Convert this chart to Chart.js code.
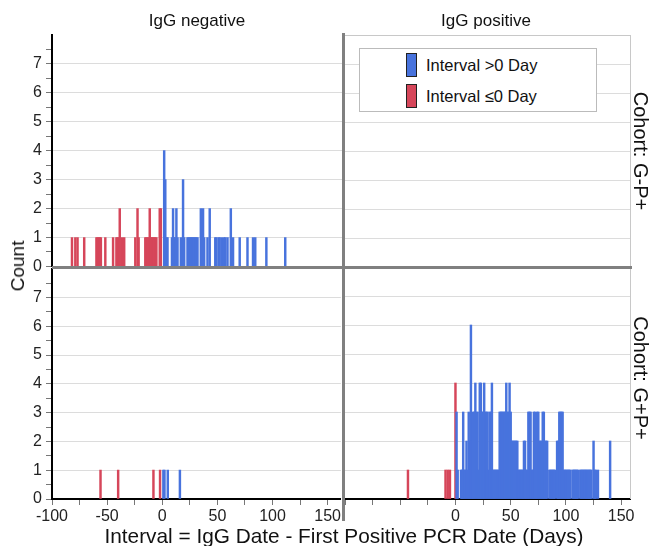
<!DOCTYPE html>
<html>
<head>
<meta charset="utf-8">
<script src="https://cdn.jsdelivr.net/npm/chart.js@4.4.1/dist/chart.umd.min.js"></script>
<style>
  body { margin: 0; background: #fff; font-family: "Liberation Sans", Arial, sans-serif; }
  #wrap { position: relative; width: 652px; height: 546px; overflow: hidden; }
  .panel { position: absolute; }
  .txt { position: absolute; color: #111; white-space: nowrap; }
  .rot { transform: translate(-50%, -50%) rotate(90deg); }
  .rotl { transform: translate(-50%, -50%) rotate(-90deg); }
  .line { position: absolute; z-index: 5; }
  #legend { position: absolute; left: 359px; top: 48px; width: 236px; height: 62px;
            border: 1px solid #bbb; background: #fff; z-index: 6; }
  .item { position: absolute; left: 46px; height: 24px; font-size: 16.5px; color: #111; }
  .item span.sw { position: absolute; left: 0; top: 0; width: 9px; height: 22px; border: 1px solid #222; }
  .item span.lb { position: absolute; left: 20px; top: 3px; white-space: nowrap; }
</style>
</head>
<body>
<div id="wrap">
  <div class="panel" style="left:0;top:0;width:343px;height:280px"><canvas id="tl"></canvas></div>
  <div class="panel" style="left:343px;top:0;width:309px;height:280px"><canvas id="tr"></canvas></div>
  <div class="panel" style="left:0;top:255px;width:343px;height:291px"><canvas id="bl"></canvas></div>
  <div class="panel" style="left:343px;top:255px;width:309px;height:291px"><canvas id="br"></canvas></div>

  <!-- frame and facet dividers -->
  <div class="line" style="left:630px;top:35px;width:1px;height:464px;background:#c8c8c8"></div>
  <div class="line" style="left:52px;top:266px;width:580px;height:3px;background:#808080"></div>
  <div class="line" style="left:342px;top:33px;width:3px;height:488px;background:#808080"></div>

  <div class="txt" style="left:197px;top:11px;font-size:17px;transform:translateX(-50%)">IgG negative</div>
  <div class="txt" style="left:486px;top:11px;font-size:17px;transform:translateX(-50%)">IgG positive</div>
  <div class="txt rotl" style="left:18px;top:266px;font-size:19px">Count</div>
  <div class="txt rot" style="left:640px;top:151px;font-size:20px">Cohort: G-P+</div>
  <div class="txt rot" style="left:640px;top:378px;font-size:20px">Cohort: G+P+</div>
  <div class="txt" style="left:344px;top:524px;font-size:20.8px;transform:translateX(-50%)">Interval = IgG Date - First Positive PCR Date (Days)</div>

  <div id="legend"></div>
</div>

<script>
// series
const seriesNames = ['Interval >0 Day', 'Interval \u22640 Day'];
const seriesColors = ['#4873dd', '#d6465a'];

// axis ticks
const countTicks = [0, 1, 2, 3, 4, 5, 6, 7];
const dayTickMarks = [-100, -75, -50, -25, 0, 25, 50, 75, 100, 125, 150];
const leftDayTicks = [-100, -50, 0, 50, 100, 150];
const rightDayTicks = [0, 50, 100, 150];

// Cohort G-P+, IgG negative
const gpNegRedDays = [-82, -79, -77, -71, -60, -59, -58, -57, -56, -52, -45, -42, -41, -40, -39, -37, -35,
  -25, -23, -22, -16, -15, -14, -13, -12, -11, -10, -9, -8, -7, -6, -3, -2];
const gpNegRedCounts = [1, 1, 1, 1, 1, 1, 1, 1, 1, 1, 1, 1, 1, 1, 2, 1, 1,
  1, 2, 1, 1, 1, 1, 1, 2, 1, 1, 1, 1, 1, 1, 2, 2];
const gpNegBlueDays = [1, 2, 3, 4, 8, 9, 10, 11, 12, 13, 16, 18, 19, 22, 23, 24, 25, 26, 27, 28, 29, 30, 31,
  34, 35, 36, 37, 40, 42, 47, 48, 50, 51, 53, 55, 56, 58, 61, 63, 69, 76, 81, 83, 93, 110];
const gpNegBlueCounts = [4, 3, 1, 1, 1, 2, 1, 1, 2, 1, 1, 3, 1, 1, 1, 1, 1, 1, 1, 1, 1, 1, 1,
  2, 1, 2, 1, 1, 2, 1, 1, 1, 1, 1, 1, 1, 1, 2, 1, 1, 1, 1, 1, 1, 1];

// Cohort G+P+, IgG negative
const ppNegRedDays = [-56, -40, -8, -2];
const ppNegRedCounts = [1, 1, 1, 1];
const ppNegBlueDays = [1, 2, 5, 16];
const ppNegBlueCounts = [1, 1, 1, 1];

// Cohort G+P+, IgG positive
const ppPosRedDays = [-43, -9, -7, -5, 0];
const ppPosRedCounts = [1, 1, 1, 1, 4];
const ppPosBlueDays = [
  1, 2, 5, 6, 7, 8, 9, 10, 11, 12, 13, 14, 15, 16, 17, 18, 19, 20, 21, 22, 23, 24, 25,
  26, 27, 28, 29, 30, 31, 32, 33, 34, 35, 36, 37, 38, 39, 40, 41, 42, 43, 44, 45, 46, 47, 48, 49, 50,
  51, 52, 53, 54, 55, 56, 57, 58, 59, 60, 61, 62, 63, 64, 65, 66, 67, 68, 69, 70, 71, 72, 73, 74, 75,
  76, 77, 78, 79, 80, 81, 82, 83, 85, 86, 87, 88, 89, 90, 92, 93, 94, 95, 96, 97, 98, 99, 100, 101,
  102, 103, 104, 106, 107, 108, 109, 110, 111, 113, 114, 115, 116, 117, 118, 119, 120, 121, 122, 123,
  125, 126, 127, 129, 140];
const ppPosBlueCounts = [
  3, 1, 1, 1, 3, 1, 1, 2, 1, 3, 2, 6, 2, 3, 3, 4, 3, 3, 1, 4, 4, 3, 3,
  4, 3, 3, 3, 1, 3, 3, 4, 1, 1, 1, 1, 1, 1, 3, 3, 3, 3, 3, 3, 4, 3, 3, 4, 3,
  2, 2, 2, 2, 2, 2, 1, 1, 1, 1, 1, 2, 2, 1, 1, 3, 3, 3, 1, 1, 3, 3, 2, 3, 3,
  2, 2, 2, 3, 3, 2, 2, 2, 1, 1, 1, 1, 1, 1, 2, 2, 3, 3, 3, 3, 1, 1, 1, 1,
  1, 1, 1, 1, 1, 1, 1, 1, 1, 1, 1, 1, 1, 1, 1, 1, 1, 1, 1, 1,
  2, 1, 1, 1, 2];

const FONT = '"Liberation Sans", Arial, sans-serif';
const CLEAR = 'rgba(0,0,0,0)';

function points(days, counts) {
  return days.map((d, i) => ({ x: d, y: counts[i] }));
}

function countScale(showLabels, topLine) {
  return {
    min: 0,
    max: 8,
    afterFit: s => { s.width = showLabels ? 52 : 0; },
    ticks: {
      display: showLabels,
      stepSize: 0.5,
      autoSkip: false,
      padding: 4,
      color: '#222',
      font: { family: FONT, size: 16 },
      callback: v => countTicks.includes(v) ? String(v) : ''
    },
    grid: {
      drawTicks: showLabels,
      tickLength: 6,
      color: c => {
        const v = c.tick ? c.tick.value : 0;
        if (v === 8) return topLine ? '#c8c8c8' : CLEAR;
        return (v > 0 && Number.isInteger(v)) ? '#dcdcdc' : CLEAR;
      },
      tickColor: c => (c.tick && c.tick.value < 8) ? '#777' : CLEAR
    },
    border: { display: showLabels, color: '#000', width: 2 }
  };
}

function dayScale(max, labels, show) {
  return {
    type: 'linear',
    min: -100,
    max: max,
    offset: false,
    display: show,
    afterFit: s => { s.height = show ? 47 : 0; },
    afterBuildTicks: s => { s.ticks = dayTickMarks.map(v => ({ value: v })); },
    ticks: {
      autoSkip: false,
      maxRotation: 0,
      padding: 2,
      color: '#222',
      font: { family: FONT, size: 16 },
      callback: v => labels.includes(v) ? String(v) : ''
    },
    grid: {
      drawOnChartArea: false,
      offset: false,
      tickLength: 6,
      tickColor: '#777'
    },
    border: { color: '#000', width: 2 }
  };
}

function panel(id, blue, red, opts) {
  const datasets = [];
  if (blue) datasets.push({ label: seriesNames[0], data: blue, backgroundColor: seriesColors[0] });
  if (red) datasets.push({ label: seriesNames[1], data: red, backgroundColor: seriesColors[1] });
  datasets.forEach(ds => {
    ds.barThickness = 1.8;
    ds.grouped = false;
    ds.borderWidth = 0;
  });
  return new Chart(document.getElementById(id), {
    type: 'bar',
    data: { datasets: datasets },
    options: {
      responsive: true,
      maintainAspectRatio: false,
      animation: false,
      layout: { padding: opts.padding },
      plugins: { legend: { display: false }, tooltip: { enabled: false } },
      scales: {
        x: dayScale(opts.xMax, opts.xLabels, opts.showX),
        y: countScale(opts.left, opts.topLine)
      }
    }
  });
}

panel('tl', points(gpNegBlueDays, gpNegBlueCounts), points(gpNegRedDays, gpNegRedCounts),
  { padding: { top: 35, bottom: 13, left: 0, right: 0 }, xMax: 162, xLabels: leftDayTicks, showX: false, left: true, topLine: false });
panel('tr', [], [],
  { padding: { top: 35, bottom: 13, left: 0, right: 22 }, xMax: 158, xLabels: rightDayTicks, showX: false, left: false, topLine: true });
panel('bl', points(ppNegBlueDays, ppNegBlueCounts), points(ppNegRedDays, ppNegRedCounts),
  { padding: { top: 12, bottom: 0, left: 0, right: 0 }, xMax: 162, xLabels: leftDayTicks, showX: true, left: true, topLine: false });
panel('br', points(ppPosBlueDays, ppPosBlueCounts), points(ppPosRedDays, ppPosRedCounts),
  { padding: { top: 12, bottom: 0, left: 0, right: 22 }, xMax: 158, xLabels: rightDayTicks, showX: true, left: false, topLine: false });

// legend
const legend = document.getElementById('legend');
seriesNames.forEach((name, i) => {
  const item = document.createElement('div');
  item.className = 'item';
  item.style.top = (4 + i * 31) + 'px';
  item.innerHTML = '<span class="sw" style="background:' + seriesColors[i] + '"></span><span class="lb">' + name + '</span>';
  legend.appendChild(item);
});
</script>
</body>
</html>
